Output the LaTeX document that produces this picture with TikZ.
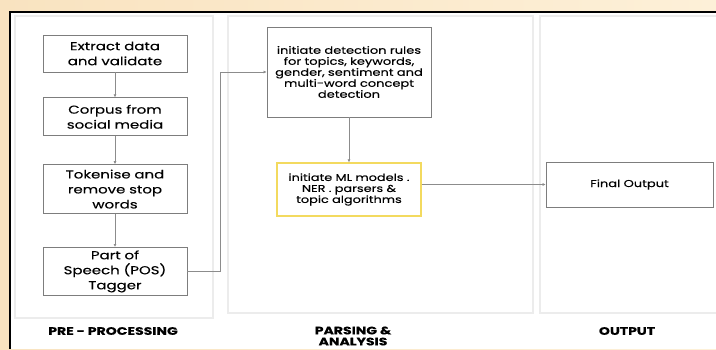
\documentclass[tikz,border=0pt]{standalone}
\usepackage{fontspec}
\setmainfont{Poppins}[FakeStretch=1.3, FakeBold=0.25]
\usetikzlibrary{arrows.meta,positioning}

\definecolor{parchment}{RGB}{249,227,192}
\definecolor{parchmentlt}{RGB}{253,240,216}
\definecolor{boxline}{RGB}{125,125,125}
\definecolor{laneline}{RGB}{236,236,236}
\definecolor{hilite}{RGB}{243,218,95}

\begin{document}
\begin{tikzpicture}[
  x=1pt, y=-1pt,
  >=Latex,
  font=\small,
  box/.style={draw=boxline, line width=0.8pt, fill=white, align=center, inner sep=2pt},
  lane/.style={draw=laneline, line width=1.2pt, fill=white},
  flow/.style={-{Latex[length=3pt,width=3pt]}, draw=black!45, line width=0.6pt},
  lanelabel/.style={font=\bfseries\fontsize{10.8}{11}\selectfont, align=center}
]
\useasboundingbox (0,0) rectangle (716,349);
\shade[left color=parchment, right color=parchmentlt] (0,0) rectangle (716,349);
\fill[white] (10,12) rectangle (716,349);
\draw[line width=1.5pt] (10,349) -- (10,12) -- (716,12);

% swim lanes
\draw[lane] (15,16) rectangle (213,318);
\draw[lane] (228,16) rectangle (533,313);
\draw[lane] (540,16) rectangle (718,313);

% pre-processing
\node[box, text width=140pt, minimum height=37pt, font=\fontsize{11.5}{15}\selectfont] (extract) at (115,53.5) {Extract data\\and validate};
\node[box, text width=140pt, minimum height=38pt, font=\fontsize{11.5}{15}\selectfont, below=25pt of extract] (corpus) {Corpus from\\social media};
\node[box, text width=140pt, minimum height=49pt, font=\fontsize{11.5}{15}\selectfont, below=28pt of corpus] (tokenise) {Tokenise and\\remove stop\\words};
\node[box, text width=140pt, minimum height=48pt, font=\fontsize{11.5}{15}\selectfont, below=33pt of tokenise] (pos) {Part of\\Speech (POS)\\Tagger};

% parsing and analysis
\node[box, text width=160pt, minimum height=90pt, font=\fontsize{10}{11}\selectfont] (rules) at (349,72) {initiate detection rules\\for topics, keywords,\\gender, sentiment and\\multi-word concept\\detection};
\node[box, draw=hilite, line width=1.3pt, text width=140pt, minimum height=53pt, font=\fontsize{9.9}{11}\selectfont] (mlmodels) at (349,189.5) {initiate ML models .\\NER . parsers \&\\topic algorithms};

% output
\node[box, text width=163pt, minimum height=45pt, font=\fontsize{10}{12}\selectfont] (final) at (629.5,184.5) {Final Output};

\draw[flow] (extract) -- (corpus);
\draw[flow] (corpus) -- (tokenise);
\draw[flow] (tokenise) -- (pos);
\draw[flow] (pos.east) -- ++(33,0) |- (rules.west);
\draw[flow] (rules) -- (mlmodels);
\draw[flow] (final.west -| mlmodels.east) -- (final.west);

\node[lanelabel] (prelabel) at (113,331) {PRE - PROCESSING};
\node[lanelabel] (parselabel) at (353,336) {PARSING \&\\ANALYSIS};
\node[lanelabel] (outlabel) at (627,331) {OUTPUT};
\end{tikzpicture}
\end{document}
